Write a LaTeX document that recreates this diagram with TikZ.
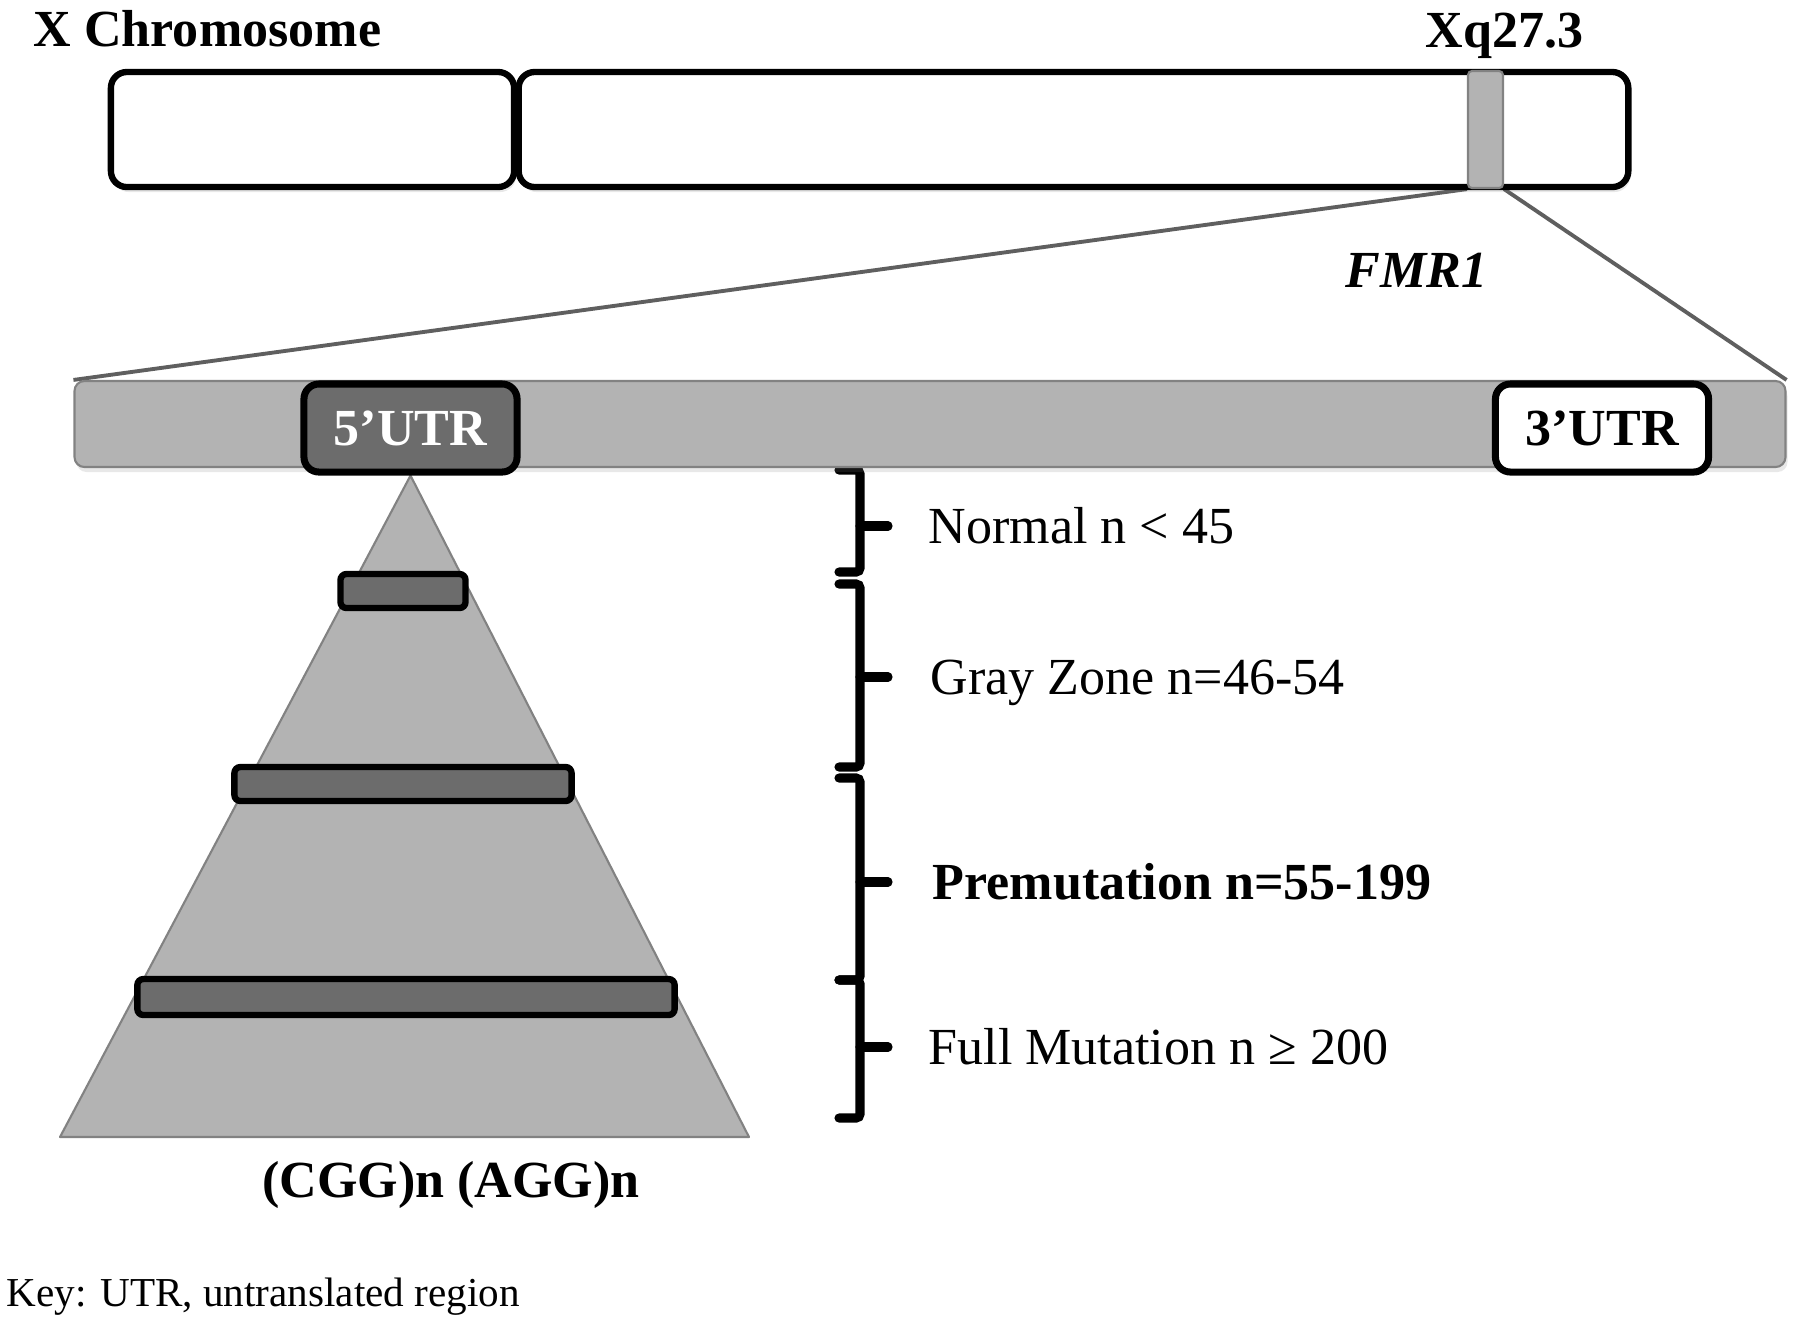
\documentclass[tikz,border=0pt]{standalone}
\usepackage{fontspec}
\setmainfont{Liberation Serif}
\usepackage{tikz}
\usetikzlibrary{shadows}
\definecolor{bargray}{RGB}{179,179,179}
\definecolor{darkbar}{RGB}{108,108,108}
\definecolor{zoomgray}{RGB}{95,95,95}
\definecolor{rimgray}{RGB}{130,130,130}
\tikzstyle{txt}=[inner sep=0pt,font=\fontsize{14.8}{17}\selectfont]
\tikzstyle{keytxt}=[inner sep=0pt,font=\fontsize{11.7}{14}\selectfont]
\tikzstyle{chrom}=[rectangle,rounded corners=0.16cm,fill=white,draw=black,line width=1.8pt,inner sep=0pt,drop shadow={shadow xshift=0.02cm,shadow yshift=-0.05cm,opacity=0.18}]
\tikzstyle{band}=[rectangle,rounded corners=0.04cm,fill=bargray,draw=rimgray,line width=0.6pt,inner sep=0pt]
\tikzstyle{gene}=[rectangle,rounded corners=0.1cm,fill=bargray,draw=rimgray,line width=0.6pt,inner sep=0pt,drop shadow={shadow xshift=0.02cm,shadow yshift=-0.05cm,opacity=0.18}]
\tikzstyle{utrdark}=[rectangle,rounded corners=0.15cm,fill=darkbar,draw=black,line width=2pt,inner sep=0pt,text=white,font=\fontsize{14.8}{17}\selectfont\bfseries]
\tikzstyle{utrlight}=[rectangle,rounded corners=0.15cm,fill=white,draw=black,line width=2pt,inner sep=0pt,font=\fontsize{14.8}{17}\selectfont\bfseries]
\tikzstyle{repeatbar}=[rectangle,rounded corners=0.06cm,fill=darkbar,draw=black,line width=1.8pt,inner sep=0pt]
\tikzstyle{cone}=[fill=bargray,draw=rimgray,line width=0.6pt,line join=round]
\tikzstyle{zoom}=[-,draw=zoomgray,line width=1.1pt]
\tikzstyle{bracket}=[-,draw=black,line width=2.6pt,line cap=round,rounded corners=0.04cm]
\pgfdeclarelayer{edgelayer}
\pgfdeclarelayer{nodelayer}
\pgfsetlayers{edgelayer,nodelayer,main}
\begin{document}
\begin{tikzpicture}[x=0.01cm,y=-0.01cm]
	\useasboundingbox (0,0) rectangle (1800,1329);
	\begin{pgfonlayer}{nodelayer}
		% chromosome
		\node [style=txt, anchor=base west] (xtitle) at (33,46) {\bfseries X Chromosome};
		\node [style=chrom, minimum width=4.03cm, minimum height=1.15cm] (parm) at (312.5,129.5) {};
		\node [style=chrom, minimum width=11.09cm, minimum height=1.15cm] (qarm) at (1073.5,129.5) {};
		\node [style=band, minimum width=0.35cm, minimum height=1.17cm] (band) at (1485.5,129.5) {};
		\node [style=txt, anchor=base west] (locus) at (1425,47) {\bfseries Xq27.3};
		\node [style=txt, anchor=base west] (fmr) at (1345,287) {\bfseries\itshape FMR1};

		% gene
		\node [style=gene, minimum width=17.10cm, minimum height=0.86cm] (gene) at (930,424) {};
		\node [style=utrdark, minimum width=2.13cm, minimum height=0.88cm] (utr5) at (410.5,428) {5’UTR};
		\node [style=utrlight, minimum width=2.13cm, minimum height=0.88cm] (utr3) at (1602,428) {3’UTR};

		% repeat lengths
		\node [style=repeatbar, minimum width=1.25cm, minimum height=0.34cm] (bar1) at (403,591) {};
		\node [style=repeatbar, minimum width=3.37cm, minimum height=0.34cm] (bar2) at (403,784) {};
		\node [style=repeatbar, minimum width=5.37cm, minimum height=0.36cm] (bar3) at (406,997) {};
		\node [style=txt, anchor=base] (repeats) at (451,1197) {\bfseries (CGG)n (AGG)n};

		\node [style=txt, anchor=base west] (normal) at (928,543) {Normal n < 45};
		\node [style=txt, anchor=base west] (gray) at (930,694) {Gray Zone n=46-54};
		\node [style=txt, anchor=base west] (premut) at (932,899) {\bfseries Premutation n=55-199};
		\node [style=txt, anchor=base west] (full) at (928,1064) {Full Mutation n ≥ 200};

		\node [style=keytxt, anchor=base west] (key) at (6,1306) {Key: UTR, untranslated region};
	\end{pgfonlayer}
	\begin{pgfonlayer}{edgelayer}
		\coordinate (conel) at (60,1137);
		\coordinate (coner) at (749,1137);
		\draw [style=cone] (utr5.south) -- (coner) -- (conel) -- cycle;
		\draw [style=zoom] (band.south west) to (gene.north west);
		\draw [style=zoom] (band.south east) to (gene.north east);

		\coordinate (b1t) at (839,470);
		\coordinate (b1b) at (839,572);
		\coordinate (b2t) at (839,584);
		\coordinate (b2b) at (839,767);
		\coordinate (b3t) at (839,778);
		\coordinate (b3b) at (839,980);
		\coordinate (b4t) at (839,980);
		\coordinate (b4b) at (839,1118);
		\draw [style=bracket] (b1t) -- ++(21,0) |- (b1b);
		\draw [style=bracket] (b2t) -- ++(21,0) |- (b2b);
		\draw [style=bracket] (b3t) -- ++(21,0) |- (b3b);
		\draw [style=bracket] (b4t) -- ++(21,0) |- (b4b);
		\draw [style=bracket] (normal.west |- 0,526) ++(-40,0) -- ++(-28,0);
		\draw [style=bracket] (gray.west |- 0,677) ++(-42,0) -- ++(-28,0);
		\draw [style=bracket] (premut.west |- 0,882) ++(-44,0) -- ++(-28,0);
		\draw [style=bracket] (full.west |- 0,1047) ++(-40,0) -- ++(-28,0);
	\end{pgfonlayer}
\end{tikzpicture}
\end{document}
